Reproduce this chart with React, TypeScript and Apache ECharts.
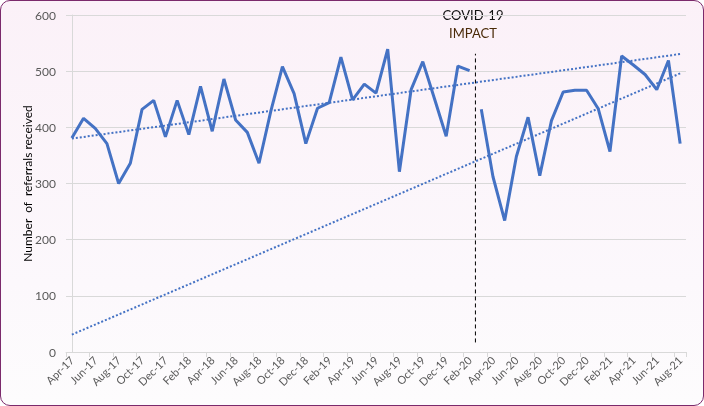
import React, { useEffect, useRef } from "react";
import * as echarts from "echarts";

const categories = [
  "Apr-17","May-17","Jun-17","Jul-17","Aug-17","Sep-17","Oct-17","Nov-17","Dec-17",
  "Jan-18","Feb-18","Mar-18","Apr-18","May-18","Jun-18","Jul-18","Aug-18","Sep-18","Oct-18","Nov-18","Dec-18",
  "Jan-19","Feb-19","Mar-19","Apr-19","May-19","Jun-19","Jul-19","Aug-19","Sep-19","Oct-19","Nov-19","Dec-19",
  "Jan-20","Feb-20","Mar-20","Apr-20","May-20","Jun-20","Jul-20","Aug-20","Sep-20","Oct-20","Nov-20","Dec-20",
  "Jan-21","Feb-21","Mar-21","Apr-21","May-21","Jun-21","Jul-21","Aug-21",
];

// Referrals before the COVID-19 break (Apr-17 .. Feb-20)
const preCovid = [
  381, 416, 398, 371, 300, 336, 432, 448, 383, 448, 387, 473,
  393, 486, 413, 391, 336, 428, 508, 460, 371, 434, 444, 525,
  449, 477, 461, 539, 321, 467, 517, 451, 384, 509, 501,
];
// Referrals after the break (Mar-20 .. Aug-21)
const postCovid = [
  432, 312, 234, 348, 418, 314, 412, 463, 466, 466, 433, 357,
  527, 511, 494, 467, 519, 371,
];

// Trend lines: [category index, value] end points
const upperTrend = [[0, 380], [52, 530.5]];
const lowerTrend = [[0, 31], [52, 496]];
const covidMarker = [[34.5, 17], [34.5, 531]];

const yTicks = { min: 0, max: 600, interval: 100 };

export default function App() {
  const ref = useRef<HTMLDivElement>(null);
  useEffect(() => {
    if (!ref.current) return;
    const chart = echarts.init(ref.current, undefined, { renderer: "svg" });
    const n = categories.length;
    const preData = categories.map((_, i) => (i < preCovid.length ? preCovid[i] : null));
    const postData = categories.map((_, i) =>
      i >= preCovid.length ? postCovid[i - preCovid.length] : null
    );
    const font = "Lato, 'Noto Sans', sans-serif";
    chart.setOption({
      animation: false,
      grid: { left: 66, right: 18, top: 15, bottom: 54, containLabel: false },
      xAxis: [
        {
          type: "category",
          data: categories,
          boundaryGap: true,
          axisLine: { lineStyle: { color: "#d9d9d9" } },
          axisTick: { show: true, interval: 1, length: 5, lineStyle: { color: "#d9d9d9" } },
          axisLabel: {
            interval: 1,
            rotate: 45,
            color: "#595959",
            fontSize: 11,
            fontFamily: font,
            margin: 6,
          },
          splitLine: { show: false },
        },
        {
          type: "value",
          min: -0.5,
          max: n - 0.5,
          show: false,
        },
      ],
      yAxis: {
        type: "value",
        min: yTicks.min,
        max: yTicks.max,
        interval: yTicks.interval,
        name: "Number  of  referrals received",
        nameLocation: "middle",
        nameGap: 33,
        nameMoveOverlap: false,
        nameTextStyle: { color: "#000", fontSize: 12, fontFamily: font },
        axisLine: { show: true, lineStyle: { color: "#d9d9d9" } },
        axisTick: { show: false },
        axisLabel: { color: "#595959", fontSize: 12, fontFamily: font, margin: 10 },
        splitLine: { lineStyle: { color: "#d9d9d9", width: 1 } },
      },
      series: [
        {
          type: "line",
          data: preData,
          showSymbol: false,
          symbol: "none",
          lineStyle: { color: "#4472c4", width: 3 },
          connectNulls: false,
        },
        {
          type: "line",
          data: postData,
          showSymbol: false,
          symbol: "none",
          lineStyle: { color: "#4472c4", width: 3 },
          connectNulls: false,
        },
        {
          type: "line",
          xAxisIndex: 1,
          data: upperTrend,
          symbol: "none",
          lineStyle: { color: "#4472c4", width: 2, type: [2, 2] },
        },
        {
          type: "line",
          xAxisIndex: 1,
          data: lowerTrend,
          symbol: "none",
          lineStyle: { color: "#4472c4", width: 2, type: [2, 2] },
        },
        {
          type: "line",
          xAxisIndex: 1,
          data: covidMarker,
          symbol: "none",
          lineStyle: { color: "#000", width: 1, type: [4, 3] },
        },
      ],
      graphic: [
        {
          type: "text",
          x: 473,
          y: 15,
          style: {
            text: "COVID-19",
            fill: "#111",
            font: "13px " + font,
            textAlign: "center",
            textVerticalAlign: "middle",
          },
        },
        {
          type: "text",
          x: 473,
          y: 33,
          style: {
            text: "IMPACT",
            fill: "#4a2a08",
            font: "13px " + font,
            textAlign: "center",
            textVerticalAlign: "middle",
          },
        },
      ],
    });
    return () => chart.dispose();
  }, []);

  return (
    <div
      style={{
        position: "fixed",
        left: 0,
        top: 0,
        width: 704,
        height: 406,
        boxSizing: "border-box",
        border: "1.5px solid #7b2a6c",
        borderRadius: 10,
        background: "linear-gradient(to bottom, #fbf1f8 0%, #fcf8fc 70%, #fdfcfd 100%)",
        overflow: "hidden",
      }}
    >
      <div ref={ref} style={{ position: "absolute", left: -1.5, top: -1.5, width: 704, height: 406 }} />
    </div>
  );
}
